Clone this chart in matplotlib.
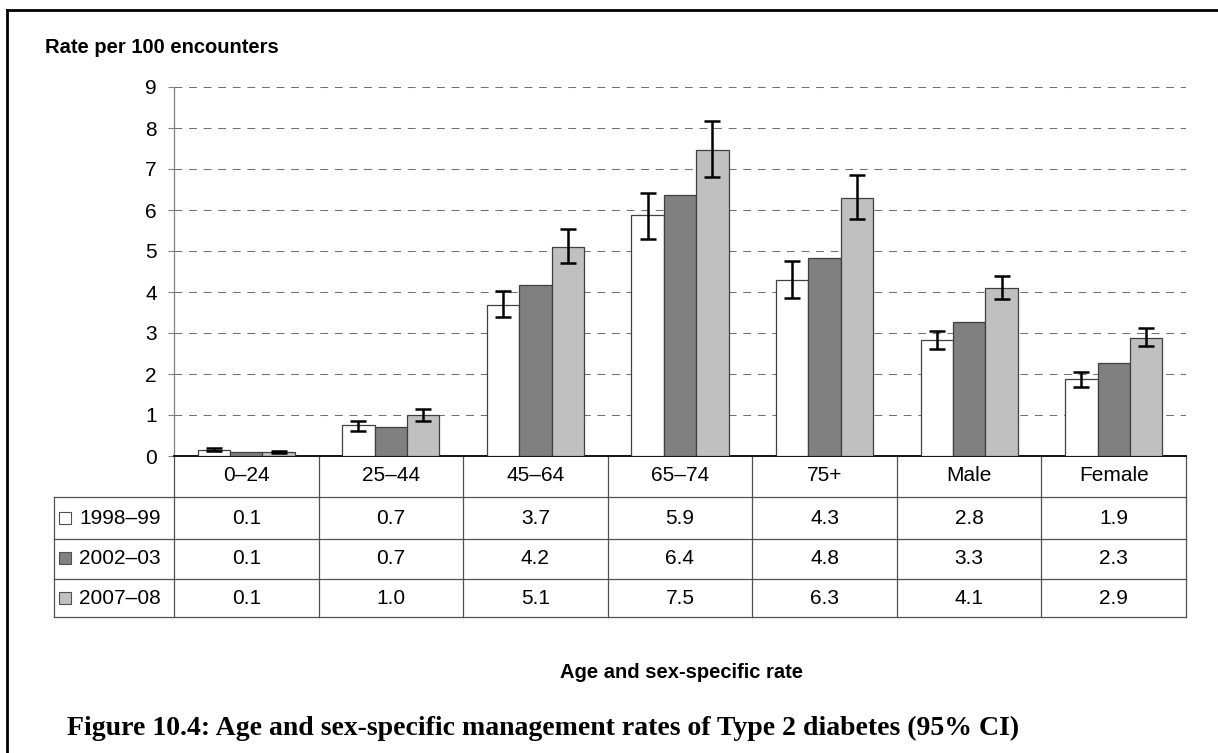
import matplotlib
matplotlib.use("Agg")
import matplotlib.pyplot as plt
import matplotlib.patches as mpatches
from matplotlib.transforms import blended_transform_factory
import numpy as np

# ---------------- data ----------------
categories = ["0–24", "25–44", "45–64", "65–74", "75+", "Male", "Female"]
series_names = ["1998–99", "2002–03", "2007–08"]

rate_1998 = [0.15, 0.75, 3.68, 5.87, 4.30, 2.83, 1.87]
rate_2002 = [0.10, 0.70, 4.16, 6.36, 4.83, 3.28, 2.27]
rate_2007 = [0.10, 0.99, 5.09, 7.47, 6.30, 4.10, 2.88]

ci_low_1998 = [0.11, 0.62, 3.39, 5.29, 3.85, 2.62, 1.68]
ci_high_1998 = [0.19, 0.86, 4.03, 6.41, 4.75, 3.05, 2.05]
ci_low_2007 = [0.08, 0.86, 4.71, 6.81, 5.78, 3.82, 2.68]
ci_high_2007 = [0.13, 1.14, 5.54, 8.17, 6.85, 4.40, 3.13]

table_1998 = ["0.1", "0.7", "3.7", "5.9", "4.3", "2.8", "1.9"]
table_2002 = ["0.1", "0.7", "4.2", "6.4", "4.8", "3.3", "2.3"]
table_2007 = ["0.1", "1.0", "5.1", "7.5", "6.3", "4.1", "2.9"]

y_ticks = [0, 1, 2, 3, 4, 5, 6, 7, 8, 9]

colors = ["#FFFFFF", "#808080", "#C0C0C0"]
edge = "#404040"

# ---------------- figure ----------------
W, H = 1218, 753
fig = plt.figure(figsize=(W / 100, H / 100), dpi=100)
plt.rcParams["font.family"] = ["Liberation Sans", "DejaVu Sans"]

FS = 15

overlay = fig.add_axes([0, 0, 1, 1], zorder=0)
overlay.set_xlim(0, W)
overlay.set_ylim(H, 0)
overlay.axis("off")
overlay.patch.set_alpha(0)

ax_left, ax_right, ax_bot, ax_top = 174, 1186, 456, 87
ax = fig.add_axes([ax_left / W, (H - ax_bot) / H, (ax_right - ax_left) / W, (ax_bot - ax_top) / H], zorder=1)
ax.patch.set_alpha(0)
ax.set_xlim(-0.5, len(categories) - 0.5)
ax.set_ylim(0, 9)

x = np.arange(len(categories))
bw = 0.224
rates = [rate_1998, rate_2002, rate_2007]
for i, (vals, col) in enumerate(zip(rates, colors)):
    ax.bar(x + (i - 1) * bw, vals, width=bw, color=col, edgecolor=edge, linewidth=0.9, zorder=3)

for off, vals, lo, hi in [(-bw, rate_1998, ci_low_1998, ci_high_1998),
                          (bw, rate_2007, ci_low_2007, ci_high_2007)]:
    v = np.array(vals)
    yerr = [v - np.array(lo), np.array(hi) - v]
    ax.errorbar(x + off, v, yerr=yerr, fmt="none", ecolor="black",
                elinewidth=1.8, capsize=5.5, capthick=1.8, zorder=4)

ax.set_yticks(y_ticks)
ax.set_yticklabels([str(t) for t in y_ticks], fontsize=FS)
ax.set_xticks([])
ax.yaxis.grid(True, color="#707070", linewidth=0.75, dashes=(7.5, 6.5), zorder=0)
ax.set_axisbelow(True)
for s in ["top", "right"]:
    ax.spines[s].set_visible(False)
ax.spines["left"].set_color("#808080")
ax.spines["left"].set_linewidth(0.9)
ax.spines["bottom"].set_color("black")
ax.spines["bottom"].set_linewidth(1.3)
ax.tick_params(axis="y", length=4.3, color="#808080", pad=8, labelsize=FS)

# ---------------- table ----------------
trans = blended_transform_factory(ax.transData, overlay.transData)
line_kw = dict(color="#505050", linewidth=0.9, clip_on=False)
header_top, table_top, row_lines, table_bot = 456, 497, [539, 579], 617
col_bounds = np.arange(len(categories) + 1) - 0.5

for cb in col_bounds:
    overlay.plot([cb, cb], [header_top, table_bot], transform=trans, **line_kw)
x0_px = 54
for yy in [table_top] + row_lines + [table_bot]:
    overlay.plot([x0_px, ax_right], [yy, yy], **line_kw)
overlay.plot([x0_px, x0_px], [table_top, table_bot], **line_kw)

for i, c in enumerate(categories):
    overlay.text(i, 475, c, transform=trans, ha="center", va="center", fontsize=FS)

row_centers = [518, 558, 598]
tables = [table_1998, table_2002, table_2007]
for r, (name, col, tv) in enumerate(zip(series_names, colors, tables)):
    yc = row_centers[r]
    overlay.add_patch(mpatches.Rectangle((59, yc - 6), 12, 12, facecolor=col,
                                         edgecolor="#505050", linewidth=0.8))
    overlay.text(79, yc, name, ha="left", va="center", fontsize=FS)
    for i, t in enumerate(tv):
        overlay.text(i, yc, t, transform=trans, ha="center", va="center", fontsize=FS)

# ---------------- titles ----------------
overlay.text(45, 47, "Rate per 100 encounters", ha="left", va="center",
             fontsize=14.5, fontweight="bold")
overlay.text(682, 673, "Age and sex-specific rate", ha="center", va="center",
             fontsize=14.5, fontweight="bold")
overlay.text(67, 728, "Figure 10.4: Age and sex-specific management rates of Type 2 diabetes (95% CI)",
             ha="left", va="center", fontsize=20, fontweight="bold",
             family=["Liberation Serif", "DejaVu Serif"])

# frame (top and left visible)
overlay.plot([7, W], [10, 10], color="black", linewidth=2, clip_on=False)
overlay.plot([7, 7], [10, H], color="black", linewidth=2, clip_on=False)

fig.savefig("out.png", dpi=100)
